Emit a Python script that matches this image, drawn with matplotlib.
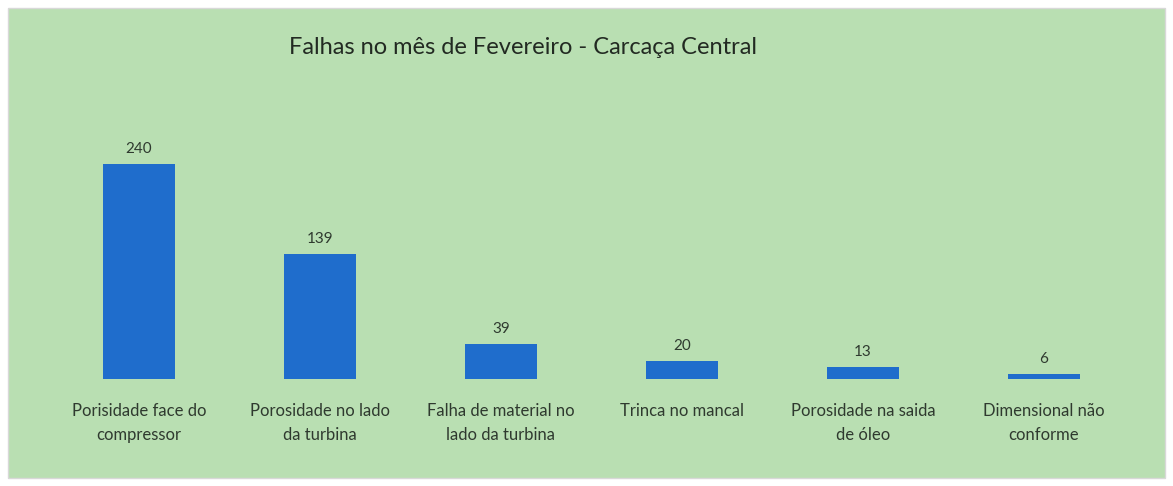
import matplotlib.pyplot as plt
from matplotlib.patches import Rectangle

categories = ['Porisidade face do\ncompressor', 'Porosidade no lado\nda turbina',
              'Falha de material no\nlado da turbina', 'Trinca no mancal',
              'Porosidade na saida\nde óleo', 'Dimensional não\nconforme']
values = [240, 139, 39, 20, 13, 6]

green = '#b9dfb2'
blue = '#1f6dcc'
txt = '#2f3a2f'

plt.rcParams['font.family'] = ['Lato', 'DejaVu Sans']

fig = plt.figure(figsize=(11.73, 4.86), dpi=100, facecolor='white')
fig.patches.append(Rectangle((8 / 1173, 8 / 486), 1157 / 1173, 470 / 486,
                             transform=fig.transFigure, facecolor=green,
                             edgecolor='#d8d8d8', linewidth=1, zorder=-10))

ax = fig.add_axes([48.5 / 1173, (486 - 379) / 486, 1086 / 1173, 270 / 486])
ax.set_facecolor('none')
x = range(len(values))
bars = ax.bar(x, values, width=0.4, color=blue)
for xi, v in zip(x, values):
    ax.text(xi, v + 9, str(v), ha='center', va='bottom', fontsize=11, color=txt)

ax.set_xlim(-0.5, len(values) - 0.5)
ax.set_ylim(0, 270 / 0.896)
ax.set_xticks(list(x))
ax.set_xticklabels(categories, fontsize=12, color=txt, linespacing=1.65)
ax.tick_params(axis='x', length=0, pad=17)
ax.set_yticks([])
for s in ax.spines.values():
    s.set_visible(False)

fig.text(523 / 1173, 1 - 48 / 486, 'Falhas no mês de Fevereiro - Carcaça Central',
         ha='center', va='center', fontsize=17, color='#222a22')

plt.savefig('out.png', dpi=100)
